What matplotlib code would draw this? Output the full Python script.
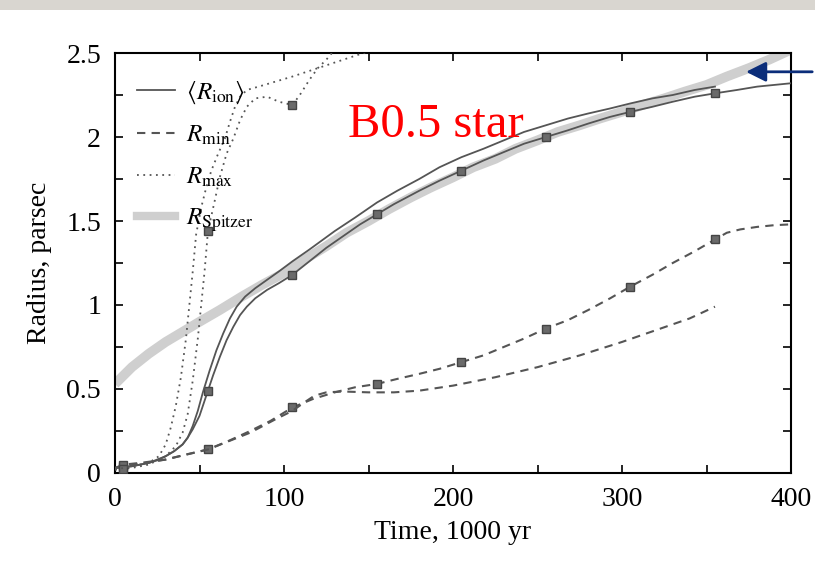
import matplotlib.pyplot as plt
from matplotlib.patches import Rectangle, FancyArrowPatch

plt.rcParams['font.family'] = 'Liberation Serif'
plt.rcParams['mathtext.fontset'] = 'stix'

# <R_ion>, run A (with square markers) and run B
t_ion_a = [0, 5, 10, 15, 20, 25, 30, 35, 40, 43, 46, 50, 55, 58, 62, 66, 70, 74, 78, 83, 90, 97, 105, 115, 125,
           135, 145, 155, 165, 180, 192, 205, 218, 230, 242, 255, 268, 280, 293, 305, 318, 330, 343, 355, 368, 380, 390, 400]
r_ion_a = [0.03, 0.035, 0.04, 0.05, 0.06, 0.075, 0.1, 0.13, 0.17, 0.21, 0.26, 0.34, 0.49, 0.58, 0.69, 0.79, 0.87, 0.94,
           0.99, 1.04, 1.09, 1.13, 1.18, 1.26, 1.34, 1.41, 1.48, 1.54, 1.6, 1.68, 1.74, 1.80, 1.86, 1.91, 1.96, 2.0, 2.04,
           2.08, 2.12, 2.15, 2.18, 2.21, 2.24, 2.26, 2.28, 2.3, 2.31, 2.32]
t_ion_b = [0, 10, 20, 30, 35, 40, 43, 46, 49, 52, 56, 60, 64, 68, 72, 77, 83, 90, 97, 105, 115, 130, 142, 155, 167,
           180, 192, 205, 218, 230, 242, 255, 268, 280, 293, 305, 318, 330, 343, 355]
r_ion_b = [0.03, 0.04, 0.06, 0.1, 0.13, 0.17, 0.21, 0.28, 0.37, 0.48, 0.61, 0.73, 0.83, 0.92, 0.99, 1.05, 1.1, 1.15,
           1.2, 1.26, 1.33, 1.44, 1.52, 1.61, 1.68, 1.75, 1.82, 1.88, 1.93, 1.98, 2.03, 2.07, 2.11, 2.14, 2.17, 2.2,
           2.23, 2.25, 2.28, 2.3]

# R_min
t_min_a = [0, 5, 15, 30, 42, 55, 67, 80, 92, 105, 117, 130, 142, 155, 167, 180, 192, 205, 218, 230, 242, 255, 268,
           280, 293, 305, 318, 330, 343, 355, 362, 370, 380, 390, 400]
r_min_a = [0.03, 0.05, 0.06, 0.08, 0.11, 0.14, 0.19, 0.25, 0.31, 0.39, 0.44, 0.48, 0.51, 0.53, 0.56, 0.59, 0.62, 0.66,
           0.7, 0.75, 0.8, 0.86, 0.91, 0.97, 1.04, 1.11, 1.18, 1.25, 1.32, 1.39, 1.43, 1.45, 1.465, 1.475, 1.48]
t_min_b = [0, 30, 55, 80, 95, 105, 112, 118, 125, 135, 150, 165, 180, 200, 225, 250, 275, 300, 320, 340, 355]
r_min_b = [0.03, 0.08, 0.14, 0.24, 0.32, 0.37, 0.42, 0.46, 0.48, 0.485, 0.48, 0.48, 0.49, 0.52, 0.57, 0.63, 0.7,
           0.78, 0.85, 0.92, 0.99]

# R_max
t_max_a = [0, 5, 10, 20, 30, 36, 40, 43, 46, 49, 51, 53, 55, 59, 62, 66, 70, 74, 78, 83, 90, 97, 105, 110, 115,
           120, 125, 130]
r_max_a = [0.02, 0.025, 0.03, 0.05, 0.1, 0.16, 0.24, 0.35, 0.55, 0.8, 1.0, 1.2, 1.44, 1.62, 1.76, 1.9, 1.99, 2.1,
           2.18, 2.23, 2.24, 2.21, 2.19, 2.26, 2.34, 2.41, 2.46, 2.52]
t_max_b = [0, 10, 20, 26, 30, 33, 36, 39, 42, 44, 46, 48, 51, 54, 57, 61, 65, 68, 71, 74, 78, 85, 95, 105, 120, 135, 150]
r_max_b = [0.02, 0.04, 0.06, 0.1, 0.17, 0.27, 0.4, 0.57, 0.8, 1.0, 1.2, 1.42, 1.58, 1.7, 1.8, 1.9, 1.99, 2.09, 2.18,
           2.24, 2.28, 2.3, 2.33, 2.36, 2.41, 2.46, 2.51]

# R_Spitzer
t_spitzer = [0, 5, 10, 20, 30, 40, 50, 62, 75, 87, 100, 112, 125, 137, 150, 162, 175, 187, 200, 212, 225, 237,
             250, 262, 275, 287, 300, 312, 325, 337, 350, 362, 375, 387, 400]
r_spitzer = [0.53, 0.58, 0.63, 0.71, 0.78, 0.84, 0.9, 0.97, 1.05, 1.12, 1.19, 1.27, 1.35, 1.43, 1.5, 1.57, 1.64,
             1.7, 1.76, 1.82, 1.87, 1.93, 1.98, 2.03, 2.07, 2.11, 2.15, 2.19, 2.23, 2.27, 2.31, 2.36, 2.41, 2.46, 2.52]

mark_times = [5, 55, 105, 155, 205, 255, 305, 355]


def mark_idx(t):
    return [i for i, v in enumerate(t) if v in mark_times]


fig = plt.figure(figsize=(8.15, 5.61), dpi=100)
fig.patches.append(Rectangle((0, 0.982), 1, 0.018, transform=fig.transFigure,
                             facecolor='#d9d6d0', edgecolor='none', zorder=0))
ax = fig.add_axes([0.1411, 0.1569, 0.8295, 0.7486])

line_col = '#555555'
mk = dict(marker='s', markersize=6, markerfacecolor='#6a6a6a', markeredgecolor='#444444')
dash = (0, (4, 3))
dot = (0, (1, 2.5))

ax.plot(t_spitzer, r_spitzer, color='#cfcfcf', lw=7, solid_capstyle='butt', zorder=1)
ax.plot(t_ion_a, r_ion_a, color=line_col, lw=1.3, markevery=mark_idx(t_ion_a), **mk, zorder=3)
ax.plot(t_ion_b, r_ion_b, color=line_col, lw=1.3, zorder=3)
ax.plot(t_min_a, r_min_a, color=line_col, lw=1.5, ls=dash, markevery=mark_idx(t_min_a), **mk, zorder=3)
ax.plot(t_min_b, r_min_b, color=line_col, lw=1.5, ls=dash, zorder=3)
ax.plot(t_max_a, r_max_a, color=line_col, lw=1.3, ls=dot, markevery=mark_idx(t_max_a), **mk, zorder=3)
ax.plot(t_max_b, r_max_b, color=line_col, lw=1.3, ls=dot, zorder=3)

# legend
h1, = ax.plot([], [], color=line_col, lw=1.3, label=r'$\langle R_{\rm ion}\rangle$')
h2, = ax.plot([], [], color=line_col, lw=1.5, ls=dash, label=r'$R_{\rm min}$')
h3, = ax.plot([], [], color=line_col, lw=1.3, ls=dot, label=r'$R_{\rm max}$')
h4, = ax.plot([], [], color='#cfcfcf', lw=6, label=r'$R_{\rm Spitzer}$')
ax.legend(handles=[h1, h2, h3, h4], loc='upper left', frameon=False, fontsize=18,
          handlelength=1.5, handletextpad=0.45, labelspacing=0.72,
          bbox_to_anchor=(0.0, 0.99), borderaxespad=0.5)

ax.set_xlim(0, 400)
ax.set_ylim(0, 2.5)
ax.set_xticks([0, 100, 200, 300, 400])
ax.set_xticks([50, 150, 250, 350], minor=True)
ax.set_yticks([0, 0.5, 1, 1.5, 2, 2.5])
ax.set_yticklabels(['0', '0.5', '1', '1.5', '2', '2.5'])
ax.set_yticks([0.25, 0.75, 1.25, 1.75, 2.25], minor=True)
ax.tick_params(which='both', direction='in', top=True, right=True, length=6, width=1.2, labelsize=20, pad=10)
for s in ax.spines.values():
    s.set_linewidth(1.5)

ax.set_xlabel('Time, 1000 yr', fontsize=20, labelpad=6)
ax.set_ylabel('Radius, parsec', fontsize=20, labelpad=10)

ax.text(0.345, 0.8, 'B0.5 star', color='red', fontsize=35, transform=ax.transAxes)

fig.patches.append(FancyArrowPatch(
    (1.0, 0.872), (0.912, 0.872), transform=fig.transFigure,
    arrowstyle='-|>,head_length=12,head_width=6', mutation_scale=1,
    color='#0b2d7a', lw=2))

fig.savefig('out.png', dpi=100)
